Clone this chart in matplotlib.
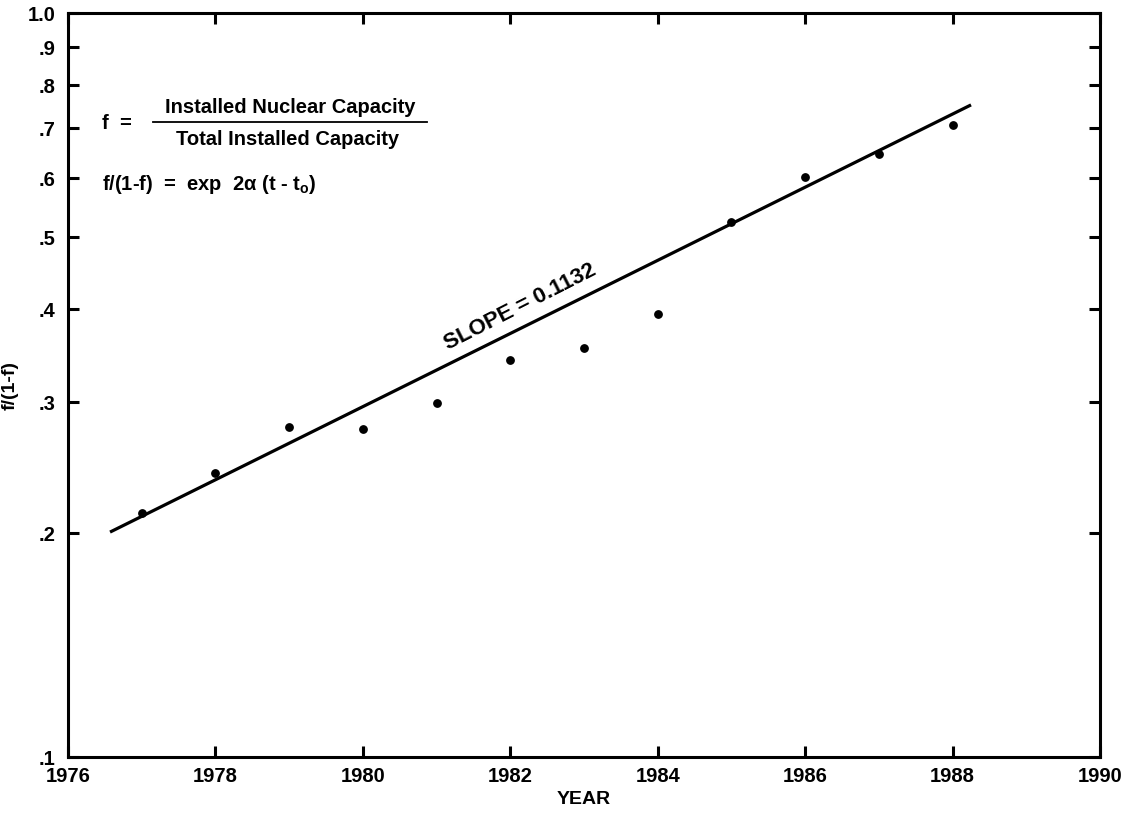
import numpy as np
import matplotlib

matplotlib.use("Agg")
import matplotlib.pyplot as plt
from matplotlib.ticker import FixedLocator, NullLocator

plt.rcParams["font.family"] = ["Liberation Sans", "DejaVu Sans"]
plt.rcParams["mathtext.fontset"] = "custom"
plt.rcParams["mathtext.rm"] = "Liberation Sans:bold"
plt.rcParams["mathtext.it"] = "Liberation Sans:bold"

# nuclear share of installed capacity, logit form f/(1-f)
years = [1977, 1978, 1979, 1980, 1981, 1982, 1983, 1984, 1985, 1986, 1987, 1988]
ratio = [0.213, 0.241, 0.278, 0.276, 0.299, 0.342, 0.355, 0.394, 0.524, 0.602, 0.646, 0.707]

# fitted exponential: f/(1-f) = r0 * exp(slope * (t - t_start))
slope = 0.1132
t_start, t_end = 1976.57, 1988.25
r0 = 0.2006

y_ticks = [0.1, 0.2, 0.3, 0.4, 0.5, 0.6, 0.7, 0.8, 0.9, 1.0]
y_labels = [".1", ".2", ".3", ".4", ".5", ".6", ".7", ".8", ".9", "1.0"]
x_ticks = [1976, 1978, 1980, 1982, 1984, 1986, 1988, 1990]

fig = plt.figure(figsize=(11.28, 8.16), dpi=100)
ax = fig.add_axes([0.0603, 0.0723, 0.9149, 0.9117])

t_fit = np.linspace(t_start, t_end, 50)
ax.plot(t_fit, r0 * np.exp(slope * (t_fit - t_start)), color="black", lw=2.3,
        solid_capstyle="butt")
ax.plot(years, ratio, "o", color="black", ms=5.3)

ax.set_yscale("log")
ax.set_xlim(1976, 1990)
ax.set_ylim(0.1, 1.0)
ax.yaxis.set_major_locator(FixedLocator(y_ticks))
ax.yaxis.set_minor_locator(NullLocator())
ax.set_yticklabels(y_labels)
ax.set_xticks(x_ticks)
ax.set_xticklabels([str(x) for x in x_ticks])

for s in ax.spines.values():
    s.set_linewidth(2.2)
ax.tick_params(axis="both", which="major", direction="in", length=8, width=2.2,
               top=True, right=True, labelsize=14.5)
ax.tick_params(axis="y", pad=9)
ax.tick_params(axis="x", pad=7)
for lab in ax.get_xticklabels() + ax.get_yticklabels():
    lab.set_fontweight("bold")

ax.set_xlabel("YEAR", fontsize=14, fontweight="bold", labelpad=4)
ax.set_ylabel("f/(1-f)", fontsize=14, fontweight="bold")
ax.yaxis.set_label_coords(-0.048, 0.5)

# slope annotation along the fitted line
ax.text(1982.2, r0 * np.exp(slope * (1982.2 - t_start)) * 1.03, "SLOPE = 0.1132",
        rotation=27, rotation_mode="anchor", ha="center", va="bottom",
        fontsize=16, fontweight="bold")

# defining formulas in the upper left
tr = ax.transAxes
ax.text(0.033, 0.852, "f  =", transform=tr, fontsize=14.5, fontweight="bold",
        ha="left", va="center")
ax.text(0.215, 0.873, "Installed Nuclear Capacity", transform=tr, fontsize=14.5,
        fontweight="bold", ha="center", va="center")
ax.plot([0.082, 0.348], [0.853, 0.853], transform=tr, color="black", lw=1.3)
ax.text(0.213, 0.830, "Total Installed Capacity", transform=tr, fontsize=14.5,
        fontweight="bold", ha="center", va="center")
ax.text(0.033, 0.770, r"f/(1-f)  =  exp  2$\alpha$ (t - t$_\mathrm{o}$)",
        transform=tr, fontsize=14.5, fontweight="bold", ha="left", va="center")

fig.savefig("out.png", dpi=100)
plt.close(fig)
